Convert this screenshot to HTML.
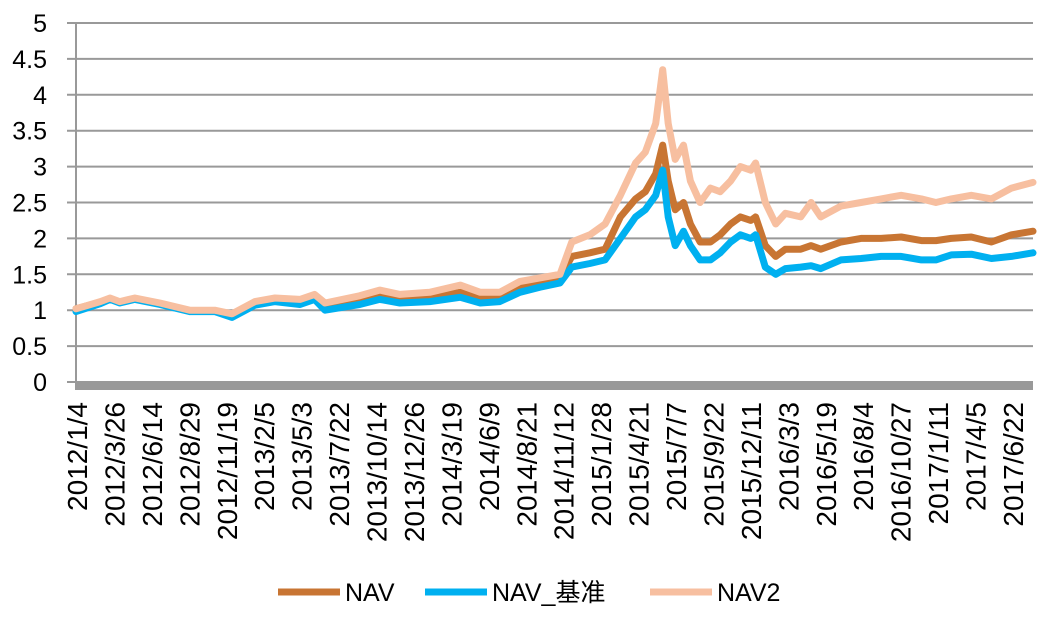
<!DOCTYPE html>
<html><head><meta charset="utf-8"><style>
body{margin:0;background:#fff;}
svg{display:block;font-family:"Liberation Sans","Noto Sans CJK SC",sans-serif;}
svg text.yl{font-size:25px;}
svg text.xl{font-size:28px;}
svg text.lg{font-size:25px;}
</style></head><body>
<svg id="chart" width="1041" height="618" viewBox="0 0 1041 618"></svg>
<script>
const dayIndex=[0,35,49,63,85,121,164,200,225,258,287,323,344,359,409,438,467,510,554,583,611,640,669,698,715,741,763,785,807,821,836,846,854,864,876,886,900,915,929,944,958,973,980,994,1009,1023,1045,1060,1074,1103,1132,1161,1190,1219,1240,1262,1291,1320,1349,1380];
const navValues=[1.02,1.11,1.16,1.11,1.16,1.09,0.99,0.99,0.94,1.1,1.15,1.12,1.2,1.05,1.15,1.22,1.17,1.2,1.25,1.18,1.2,1.32,1.38,1.45,1.75,1.8,1.85,2.3,2.55,2.65,2.9,3.3,2.8,2.4,2.5,2.2,1.95,1.95,2.05,2.2,2.3,2.25,2.3,1.9,1.75,1.85,1.85,1.9,1.85,1.95,2.0,2.0,2.02,1.97,1.97,2.0,2.02,1.95,2.05,2.1];
const benchValues=[0.98,1.09,1.15,1.1,1.15,1.08,0.98,0.98,0.9,1.07,1.12,1.08,1.15,1.0,1.08,1.15,1.1,1.12,1.18,1.1,1.12,1.25,1.32,1.38,1.6,1.65,1.7,2.0,2.3,2.4,2.6,2.95,2.3,1.9,2.1,1.9,1.7,1.7,1.8,1.95,2.05,2.0,2.05,1.6,1.5,1.58,1.6,1.62,1.58,1.7,1.72,1.75,1.75,1.7,1.7,1.77,1.78,1.72,1.75,1.8];
const nav2Values=[1.02,1.12,1.17,1.12,1.17,1.1,1.0,1.0,0.95,1.12,1.17,1.15,1.22,1.1,1.2,1.28,1.22,1.25,1.35,1.25,1.25,1.4,1.45,1.5,1.95,2.05,2.2,2.6,3.05,3.2,3.6,4.35,3.6,3.1,3.3,2.8,2.5,2.7,2.65,2.8,3.0,2.95,3.05,2.5,2.2,2.35,2.3,2.5,2.3,2.45,2.5,2.55,2.6,2.55,2.5,2.55,2.6,2.55,2.7,2.78];
const yTicks=[0,0.5,1,1.5,2,2.5,3,3.5,4,4.5,5];
const xTickLabels=["2012/1/4","2012/3/26","2012/6/14","2012/8/29","2012/11/19","2013/2/5","2013/5/3","2013/7/22","2013/10/14","2013/12/26","2014/3/19","2014/6/9","2014/8/21","2014/11/12","2015/1/28","2015/4/21","2015/7/7","2015/9/22","2015/12/11","2016/3/3","2016/5/19","2016/8/4","2016/10/27","2017/1/11","2017/4/5","2017/6/22"];

const NS="http://www.w3.org/2000/svg";
const svg=document.getElementById('chart');
const X0=76,X1=1033,Y0=382,Y1=23,tMax=1380,yMax=5;
const xs=t=>X0+t/tMax*(X1-X0);
const ys=v=>Y0-v/yMax*(Y0-Y1);
function mk(tag,attrs,parent){const e=document.createElementNS(NS,tag);for(const k in attrs)e.setAttribute(k,attrs[k]);(parent||svg).appendChild(e);return e;}

yTicks.forEach(v=>{
  const g=mk('line',{x1:67,x2:X1,y1:ys(v),y2:ys(v),stroke:'#999','stroke-width':2});
  
  
  const t=mk('text',{x:47,y:ys(v)+9,'text-anchor':'end','class':'yl',fill:'#000'});
  t.textContent=String(v);
  
  
});
const ya=mk('line',{x1:X0,x2:X0,y1:Y1,y2:Y0,stroke:'#999','stroke-width':2});


const xa=mk('rect',{x:X0-1,y:Y0,width:X1-X0+1,height:8,fill:'#999'});



const step=(1023-87)/(xTickLabels.length-1);
xTickLabels.forEach((s,i)=>{
  const x=87+i*step;
  const t=mk('text',{x:0,y:0,transform:`translate(${x},402) rotate(-90)`,'text-anchor':'end','class':'xl',fill:'#000'});
  t.textContent=s;
  
  
});

function series(vals,color,name){
  const d=vals.map((v,i)=>(i?'L':'M')+xs(dayIndex[i]).toFixed(1)+','+ys(v).toFixed(1)).join('');
  const p=mk('path',{d:d,fill:'none',stroke:color,'stroke-width':7,'stroke-linejoin':'round','stroke-linecap':'round'});
  
  
}
series(navValues,'#C87533','nav-line');
series(benchValues,'#00B0F0','nav-benchmark-line');
series(nav2Values,'#F7BFA0','nav2-line');

const legend=[['#C87533','NAV',278],['#00B0F0','NAV_基准',425],['#F7BFA0','NAV2',650]];
legend.forEach(([c,label,x])=>{
  const g=mk('g',{});
  
  
  mk('line',{x1:x,x2:x+62,y1:592,y2:592,stroke:c,'stroke-width':7},g);
  const t=mk('text',{x:x+67,y:601,'class':'lg',fill:'#000'},g);
  t.textContent=label;
});
</script>
</body></html>
